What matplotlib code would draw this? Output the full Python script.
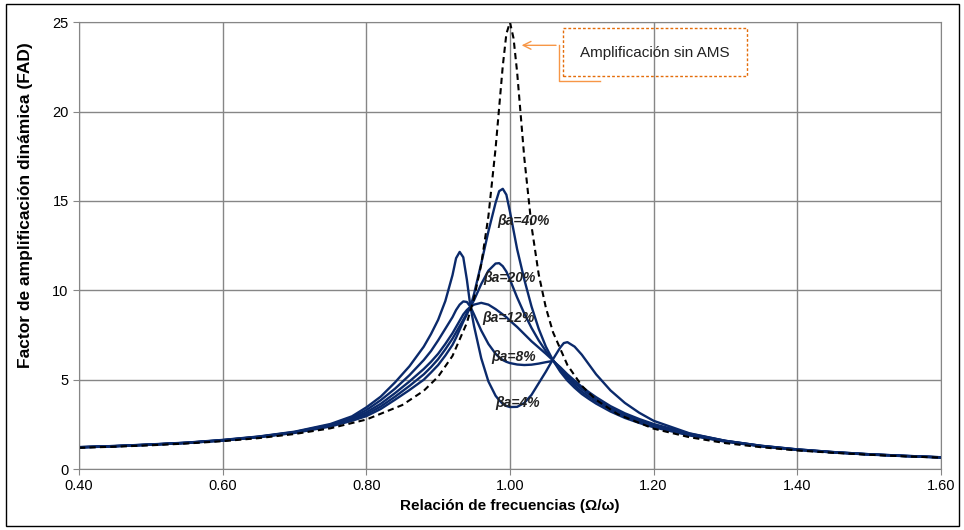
import numpy as np
import matplotlib
matplotlib.use("Agg")
import matplotlib.pyplot as plt
from matplotlib.patches import Rectangle

plt.rcParams['font.family'] = ['Liberation Sans', 'DejaVu Sans']

# frequency ratio grid shared by the AMS curves
freq = [0.40, 0.45, 0.50, 0.55, 0.60, 0.65, 0.70, 0.75, 0.78, 0.80,
        0.82, 0.84, 0.86, 0.88, 0.89, 0.90, 0.91, 0.92, 0.925, 0.93,
        0.935, 0.94, 0.945, 0.95, 0.96, 0.97, 0.98, 0.985, 0.99, 0.995,
        1.00, 1.01, 1.02, 1.03, 1.04, 1.05, 1.06, 1.07, 1.075, 1.08,
        1.09, 1.10, 1.11, 1.12, 1.14, 1.16, 1.18, 1.20, 1.25, 1.30,
        1.35, 1.40, 1.45, 1.50, 1.55, 1.60]

fad_4 = [1.23, 1.29, 1.38, 1.48, 1.63, 1.82, 2.09, 2.52, 2.95, 3.45,
         4.05, 4.85, 5.75, 6.85, 7.55, 8.35, 9.4, 10.85, 11.8, 12.15,
         11.85, 10.6, 9.08, 8.0, 6.2, 4.9, 4.1, 3.85, 3.65, 3.53,
         3.47, 3.48, 3.7, 4.15, 4.8, 5.45, 6.15, 6.8, 7.05, 7.1,
         6.85, 6.4, 5.85, 5.3, 4.4, 3.7, 3.15, 2.7, 2.0, 1.58,
         1.3, 1.1, 0.95, 0.83, 0.74, 0.66]

fad_8 = [1.22, 1.29, 1.37, 1.47, 1.62, 1.81, 2.07, 2.48, 2.88, 3.3,
         3.85, 4.5, 5.25, 6.1, 6.6, 7.2, 7.85, 8.5, 8.9, 9.2,
         9.38, 9.35, 9.08, 8.65, 7.75, 7.0, 6.45, 6.25, 6.1, 6.0,
         5.93, 5.85, 5.82, 5.84, 5.9, 5.98, 6.05, 5.7, 5.5, 5.3,
         4.95, 4.6, 4.3, 4.02, 3.52, 3.12, 2.8, 2.52, 1.98, 1.58,
         1.3, 1.1, 0.95, 0.83, 0.74, 0.66]

fad_12 = [1.22, 1.28, 1.37, 1.47, 1.61, 1.8, 2.05, 2.45, 2.82, 3.17,
          3.65, 4.25, 4.9, 5.6, 6.0, 6.45, 7.0, 7.6, 7.95, 8.3,
          8.65, 8.9, 9.08, 9.2, 9.3, 9.2, 8.95, 8.8, 8.65, 8.5,
          8.3, 7.95, 7.55, 7.15, 6.8, 6.45, 6.08, 5.65, 5.42, 5.2,
          4.82, 4.48, 4.18, 3.9, 3.42, 3.03, 2.73, 2.46, 1.95, 1.57,
          1.29, 1.09, 0.94, 0.82, 0.73, 0.65]

fad_20 = [1.21, 1.28, 1.36, 1.46, 1.6, 1.79, 2.04, 2.42, 2.77, 3.06,
          3.5, 4.05, 4.65, 5.3, 5.7, 6.15, 6.7, 7.3, 7.65, 8.0,
          8.35, 8.72, 9.08, 9.45, 10.35, 11.1, 11.5, 11.52, 11.35, 11.05,
          10.6, 9.6, 8.7, 7.9, 7.2, 6.6, 6.08, 5.55, 5.3, 5.08,
          4.68, 4.33, 4.05, 3.78, 3.33, 2.95, 2.66, 2.4, 1.92, 1.55,
          1.28, 1.08, 0.93, 0.82, 0.73, 0.65]

fad_40 = [1.21, 1.27, 1.36, 1.46, 1.59, 1.78, 2.02, 2.38, 2.7, 2.96,
          3.36, 3.88, 4.42, 5.0, 5.4, 5.82, 6.35, 6.95, 7.35, 7.8,
          8.25, 8.65, 9.08, 9.8, 11.5, 13.3, 14.9, 15.55, 15.68, 15.35,
          14.4, 12.3, 10.6, 9.1, 7.85, 6.85, 6.08, 5.45, 5.2, 4.95,
          4.55, 4.2, 3.92, 3.66, 3.22, 2.86, 2.58, 2.34, 1.88, 1.53,
          1.27, 1.07, 0.93, 0.81, 0.72, 0.65]

# structure without AMS
freq_sin = [0.40, 0.45, 0.50, 0.55, 0.60, 0.65, 0.70, 0.75, 0.80, 0.85,
            0.88, 0.90, 0.92, 0.94, 0.95, 0.96, 0.97, 0.98, 0.99, 0.995,
            1.00, 1.005, 1.01, 1.02, 1.03, 1.04, 1.05, 1.06, 1.08, 1.10,
            1.12, 1.15, 1.20, 1.25, 1.30, 1.35, 1.40, 1.45, 1.50, 1.55, 1.60]
fad_sin = [1.19, 1.25, 1.33, 1.43, 1.56, 1.73, 1.96, 2.28, 2.77, 3.58,
           4.38, 5.17, 6.33, 8.18, 9.56, 11.45, 14.15, 17.95, 22.55, 24.35,
           25.0, 24.1, 22.2, 17.4, 13.6, 10.9, 9.03, 7.65, 5.82, 4.66,
           3.87, 3.07, 2.26, 1.78, 1.45, 1.22, 1.04, 0.91, 0.80, 0.71, 0.64]

series = [fad_4, fad_8, fad_12, fad_20, fad_40]
labels = ['βa=40%', 'βa=20%', 'βa=12%', 'βa=8%', 'βa=4%']
label_pos = [(1.019, 13.9), (0.999, 10.7), (0.998, 8.43), (1.005, 6.28), (1.010, 3.67)]

navy = '#0b2a6b'
grid_col = '#868686'

fig = plt.figure(figsize=(9.64, 5.30), dpi=100)
ax = fig.add_axes([0.082, 0.115, 0.894, 0.843])

for ys in series:
    ax.plot(freq, ys, color=navy, lw=1.7, solid_joinstyle='round')
ax.plot(freq_sin, fad_sin, color='black', lw=1.5, ls=(0, (3, 2)))

for txt, (lx, ly) in zip(labels, label_pos):
    ax.text(lx, ly, txt, fontsize=10, fontweight='bold', style='italic',
            color='#222222', ha='center', va='center')

ax.set_xlim(0.40, 1.60)
ax.set_ylim(0, 25)
ax.set_xticks(np.arange(0.4, 1.61, 0.2))
ax.set_xticklabels(['%.2f' % v for v in np.arange(0.4, 1.61, 0.2)])
ax.set_yticks(range(0, 26, 5))
ax.grid(True, color=grid_col, lw=1)
ax.set_axisbelow(True)
for s in ax.spines.values():
    s.set_color(grid_col)
ax.tick_params(colors=grid_col, labelcolor='black', labelsize=10.5, length=4)

ax.set_xlabel('Relación de frecuencias (Ω/ω)', fontsize=11, fontweight='bold', labelpad=4)
ax.set_ylabel('Factor de amplificación dinámica (FAD)', fontsize=12.5, fontweight='bold')
ax.yaxis.set_label_coords(-0.053, 0.59)

# callout
orange = '#f79646'
box = Rectangle((1.0736, 21.98), 0.2561, 2.68, fill=False, ec='#e46c0a',
                lw=1, ls=(0, (2, 1.5)), zorder=5)
ax.add_patch(box)
ax.text(1.2017, 23.27, 'Amplificación sin AMS', fontsize=11, ha='center', va='center', color='#222222')
ax.annotate('', xy=(1.0124, 23.71), xytext=(1.068, 23.71),
            arrowprops=dict(arrowstyle='->', color=orange, lw=1, mutation_scale=14))
ax.plot([1.068, 1.068, 1.125], [23.71, 21.7, 21.7], color=orange, lw=1, clip_on=False)

fig.patches.append(Rectangle((0.006, 0.008), 0.989, 0.984, transform=fig.transFigure,
                             fill=False, ec='black', lw=1))

fig.savefig('out.png', dpi=100)
